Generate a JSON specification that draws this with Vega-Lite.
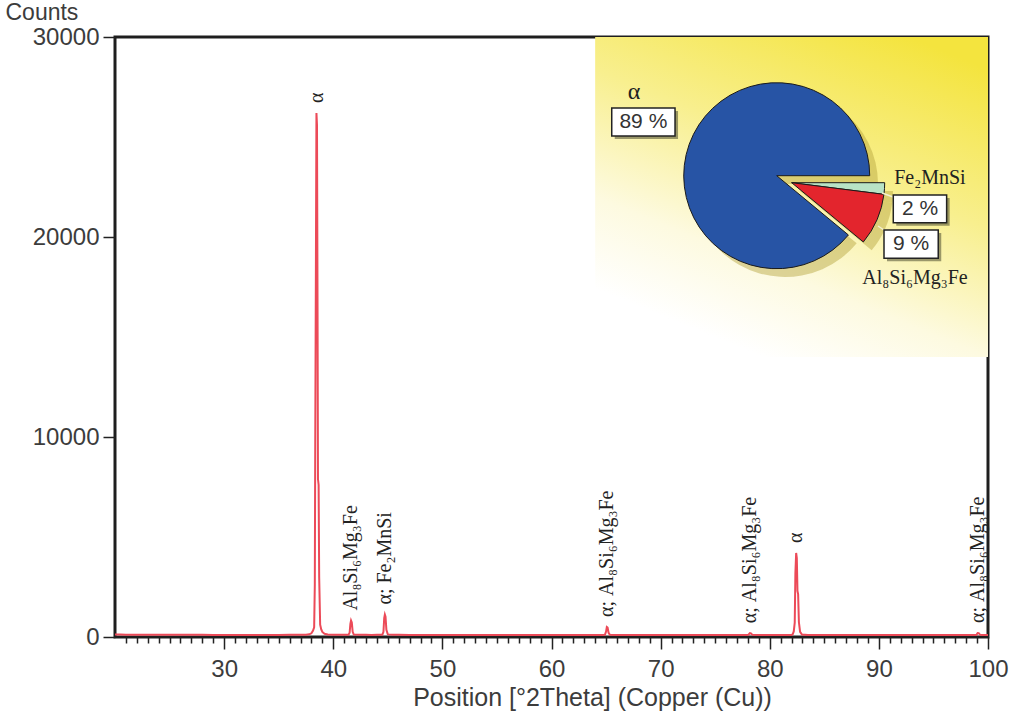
{
  "$schema": "https://vega.github.io/schema/vega-lite/v6.json",
  "width": 873,
  "height": 600,
  "autosize": {"type": "none"},
  "padding": {"left": 115, "top": 37, "right": 24, "bottom": 80},
  "background": "white",
  "resolve": {"axis": {"x": "independent", "y": "independent"}},
  "config": {
    "view": {"stroke": "#1e1e1e", "strokeWidth": 3},
    "axis": {
      "domain": false,
      "grid": false,
      "labelFont": "Liberation Sans",
      "labelFontSize": 24,
      "labelColor": "#3c3c3c",
      "titleFont": "Liberation Sans",
      "titleFontSize": 25,
      "titleFontWeight": "normal",
      "titleColor": "#3c3c3c",
      "tickColor": "#222222",
      "tickWidth": 1.5
    }
  },
  "datasets": {
    "xrd": [
      {"tt": 20, "cts": 125}, {"tt": 20.5, "cts": 120}, {"tt": 21, "cts": 118}, {"tt": 21.5, "cts": 116},
      {"tt": 22, "cts": 114}, {"tt": 23, "cts": 112}, {"tt": 24, "cts": 110}, {"tt": 25, "cts": 111},
      {"tt": 26, "cts": 108}, {"tt": 27, "cts": 107}, {"tt": 28, "cts": 108}, {"tt": 29, "cts": 106},
      {"tt": 30, "cts": 105}, {"tt": 31, "cts": 106}, {"tt": 32, "cts": 104}, {"tt": 33, "cts": 105},
      {"tt": 34, "cts": 104}, {"tt": 35, "cts": 106}, {"tt": 36, "cts": 108}, {"tt": 37, "cts": 112},
      {"tt": 37.5, "cts": 118}, {"tt": 37.8, "cts": 135}, {"tt": 38.0, "cts": 185}, {"tt": 38.15, "cts": 320},
      {"tt": 38.25, "cts": 480}, {"tt": 38.31, "cts": 2600}, {"tt": 38.35, "cts": 9800}, {"tt": 38.41, "cts": 18500},
      {"tt": 38.46, "cts": 26200}, {"tt": 38.51, "cts": 25600}, {"tt": 38.56, "cts": 16500}, {"tt": 38.6, "cts": 7900},
      {"tt": 38.66, "cts": 7600}, {"tt": 38.71, "cts": 3000}, {"tt": 38.8, "cts": 620}, {"tt": 38.9, "cts": 380},
      {"tt": 39.0, "cts": 250}, {"tt": 39.2, "cts": 160}, {"tt": 39.5, "cts": 125}, {"tt": 40, "cts": 115},
      {"tt": 40.5, "cts": 112}, {"tt": 41, "cts": 110}, {"tt": 41.4, "cts": 112}, {"tt": 41.5, "cts": 210},
      {"tt": 41.57, "cts": 650}, {"tt": 41.63, "cts": 820}, {"tt": 41.7, "cts": 720}, {"tt": 41.78, "cts": 260},
      {"tt": 41.88, "cts": 118}, {"tt": 42.5, "cts": 109}, {"tt": 43, "cts": 107}, {"tt": 43.5, "cts": 106},
      {"tt": 44, "cts": 108}, {"tt": 44.5, "cts": 116}, {"tt": 44.6, "cts": 260}, {"tt": 44.67, "cts": 950},
      {"tt": 44.73, "cts": 1120}, {"tt": 44.79, "cts": 1020}, {"tt": 44.87, "cts": 360}, {"tt": 45.0, "cts": 130},
      {"tt": 45.5, "cts": 110}, {"tt": 46, "cts": 107}, {"tt": 47, "cts": 105}, {"tt": 48, "cts": 104},
      {"tt": 49, "cts": 103}, {"tt": 50, "cts": 104}, {"tt": 51, "cts": 102}, {"tt": 52, "cts": 103},
      {"tt": 53, "cts": 101}, {"tt": 54, "cts": 102}, {"tt": 55, "cts": 101}, {"tt": 56, "cts": 100},
      {"tt": 57, "cts": 101}, {"tt": 58, "cts": 100}, {"tt": 59, "cts": 99}, {"tt": 60, "cts": 100},
      {"tt": 61, "cts": 99}, {"tt": 62, "cts": 100}, {"tt": 63, "cts": 99}, {"tt": 64, "cts": 100},
      {"tt": 64.6, "cts": 103}, {"tt": 64.9, "cts": 115}, {"tt": 65.0, "cts": 270}, {"tt": 65.07, "cts": 500},
      {"tt": 65.14, "cts": 470}, {"tt": 65.23, "cts": 210}, {"tt": 65.35, "cts": 108}, {"tt": 66, "cts": 100},
      {"tt": 67, "cts": 99}, {"tt": 68, "cts": 98}, {"tt": 69, "cts": 99}, {"tt": 70, "cts": 98},
      {"tt": 71, "cts": 97}, {"tt": 72, "cts": 98}, {"tt": 73, "cts": 97}, {"tt": 74, "cts": 98},
      {"tt": 75, "cts": 97}, {"tt": 76, "cts": 98}, {"tt": 77, "cts": 97}, {"tt": 77.8, "cts": 99},
      {"tt": 78.05, "cts": 112}, {"tt": 78.18, "cts": 190}, {"tt": 78.28, "cts": 175}, {"tt": 78.42, "cts": 106},
      {"tt": 79, "cts": 98}, {"tt": 80, "cts": 97}, {"tt": 81, "cts": 98}, {"tt": 82, "cts": 100},
      {"tt": 82.1, "cts": 130}, {"tt": 82.2, "cts": 280}, {"tt": 82.29, "cts": 720}, {"tt": 82.35, "cts": 3200},
      {"tt": 82.42, "cts": 4200}, {"tt": 82.48, "cts": 3950}, {"tt": 82.54, "cts": 2300}, {"tt": 82.6, "cts": 2150},
      {"tt": 82.67, "cts": 750}, {"tt": 82.78, "cts": 260}, {"tt": 82.95, "cts": 120}, {"tt": 83.5, "cts": 100},
      {"tt": 84, "cts": 97}, {"tt": 85, "cts": 96}, {"tt": 86, "cts": 97}, {"tt": 87, "cts": 96},
      {"tt": 88, "cts": 95}, {"tt": 89, "cts": 96}, {"tt": 90, "cts": 95}, {"tt": 91, "cts": 96},
      {"tt": 92, "cts": 95}, {"tt": 93, "cts": 94}, {"tt": 94, "cts": 95}, {"tt": 95, "cts": 94},
      {"tt": 96, "cts": 95}, {"tt": 97, "cts": 94}, {"tt": 98, "cts": 95}, {"tt": 98.8, "cts": 97},
      {"tt": 98.95, "cts": 108}, {"tt": 99.05, "cts": 200}, {"tt": 99.15, "cts": 190}, {"tt": 99.28, "cts": 108},
      {"tt": 99.5, "cts": 97}, {"tt": 100, "cts": 96}
    ],
    "peaks": [
      {"tt": 38.48, "cts": 26200, "lab": "α"},
      {"tt": 41.63, "cts": 820, "lab": "Al₈Si₆Mg₃Fe"},
      {"tt": 44.73, "cts": 1120, "lab": "α; Fe₂MnSi"},
      {"tt": 65.08, "cts": 500, "lab": "α; Al₈Si₆Mg₃Fe"},
      {"tt": 78.22, "cts": 190, "lab": "α; Al₈Si₆Mg₃Fe"},
      {"tt": 82.44, "cts": 4200, "lab": "α"},
      {"tt": 99.1, "cts": 200, "lab": "α; Al₈Si₆Mg₃Fe"}
    ],
    "pie": [
      {"phase": "α", "pct": 89},
      {"phase": "Fe₂MnSi", "pct": 2},
      {"phase": "Al₈Si₆Mg₃Fe", "pct": 9}
    ]
  },
  "layer": [
    {
      "data": {"values": [{"k": 1}]},
      "mark": {
        "type": "rect",
        "fill": {
          "gradient": "linear",
          "x1": 0.8, "y1": 0, "x2": 0.3, "y2": 1,
          "stops": [
            {"offset": 0, "color": "#f4e43e"},
            {"offset": 0.4, "color": "#f8ef8e"},
            {"offset": 0.72, "color": "#fdfae0"},
            {"offset": 0.95, "color": "#ffffff"}
          ]
        }
      },
      "encoding": {
        "x": {"datum": 64, "type": "quantitative", "axis": null},
        "x2": {"datum": 100},
        "y": {"datum": 30000, "type": "quantitative", "axis": null},
        "y2": {"datum": 14000}
      }
    },
    {
      "data": {"name": "xrd"},
      "mark": {"type": "line", "color": "#ec4a58", "strokeWidth": 2},
      "encoding": {
        "x": {
          "field": "tt",
          "type": "quantitative",
          "scale": {"domain": [20, 100], "nice": false, "zero": false},
          "axis": {
            "title": "Position [°2Theta] (Copper (Cu))",
            "values": [21,22,23,24,25,26,27,28,29,30,31,32,33,34,35,36,37,38,39,40,41,42,43,44,45,46,47,48,49,50,51,52,53,54,55,56,57,58,59,60,61,62,63,64,65,66,67,68,69,70,71,72,73,74,75,76,77,78,79,80,81,82,83,84,85,86,87,88,89,90,91,92,93,94,95,96,97,98,99,100],
            "labelExpr": "datum.value % 10 === 0 ? datum.label : ''",
            "labelOverlap": false,
            "labelFlush": false,
            "tickSize": {"condition": {"test": "datum.value % 10 === 0", "value": 12}, "value": 6},
            "labelPadding": 8,
            "titleX": 477,
            "titleY": 68,
            "titleAlign": "center",
            "titleBaseline": "alphabetic"
          }
        },
        "y": {
          "field": "cts",
          "type": "quantitative",
          "scale": {"domain": [0, 30000], "nice": false},
          "axis": {
            "title": "Counts",
            "values": [0, 10000, 20000, 30000],
            "format": "d",
            "tickSize": 12,
            "labelPadding": 4,
            "titleAngle": 0,
            "titleFontSize": 23,
            "titleX": -110,
            "titleY": -18,
            "titleAlign": "left",
            "titleBaseline": "alphabetic"
          }
        }
      }
    },
    {
      "data": {"name": "peaks"},
      "mark": {"type": "text", "angle": 270, "align": "left", "baseline": "middle", "dx": 10, "font": "Liberation Serif", "fontSize": 20, "color": "#222222"},
      "encoding": {
        "x": {"field": "tt", "type": "quantitative", "axis": null},
        "y": {"field": "cts", "type": "quantitative", "axis": null},
        "text": {"field": "lab"}
      }
    },
    {
      "data": {"name": "pie"},
      "mark": {"type": "arc", "outerRadius": 93, "color": "#b3a13a"},
      "encoding": {
        "x": {"datum": 81.4, "type": "quantitative", "axis": null},
        "y": {"datum": 22650, "type": "quantitative", "axis": null},
        "theta": {"field": "pct", "type": "quantitative", "stack": true, "scale": {"range": [1.5708, 7.854]}},
        "order": {"field": "pct", "sort": "ascending"},
        "opacity": {"condition": {"test": "datum.phase !== 'α'", "value": 0}, "value": 0.45}
      }
    },
    {
      "data": {"name": "pie"},
      "mark": {"type": "arc", "outerRadius": 93, "color": "#b3a13a"},
      "encoding": {
        "x": {"datum": 82.77, "type": "quantitative", "axis": null},
        "y": {"datum": 22300, "type": "quantitative", "axis": null},
        "theta": {"field": "pct", "type": "quantitative", "stack": true, "scale": {"range": [1.5708, 7.854]}},
        "order": {"field": "pct", "sort": "ascending"},
        "opacity": {"condition": {"test": "datum.phase === 'α'", "value": 0}, "value": 0.45}
      }
    },
    {
      "data": {"name": "pie"},
      "mark": {"type": "arc", "outerRadius": 93, "stroke": "#1a1a1a", "strokeWidth": 1},
      "encoding": {
        "x": {"datum": 80.64, "type": "quantitative", "axis": null},
        "y": {"datum": 23065, "type": "quantitative", "axis": null},
        "theta": {"field": "pct", "type": "quantitative", "stack": true, "scale": {"range": [1.5708, 7.854]}},
        "order": {"field": "pct", "sort": "ascending"},
        "color": {"field": "phase", "type": "nominal", "scale": {"domain": ["α", "Fe₂MnSi", "Al₈Si₆Mg₃Fe"], "range": ["#2754a5", "#b8e3c6", "#e3252d"]}, "legend": null},
        "opacity": {"condition": {"test": "datum.phase !== 'α'", "value": 0}, "value": 1}
      }
    },
    {
      "data": {"name": "pie"},
      "mark": {"type": "arc", "outerRadius": 93, "stroke": "#1a1a1a", "strokeWidth": 1},
      "encoding": {
        "x": {"datum": 82.01, "type": "quantitative", "axis": null},
        "y": {"datum": 22715, "type": "quantitative", "axis": null},
        "theta": {"field": "pct", "type": "quantitative", "stack": true, "scale": {"range": [1.5708, 7.854]}},
        "order": {"field": "pct", "sort": "ascending"},
        "color": {"field": "phase", "type": "nominal", "scale": {"domain": ["α", "Fe₂MnSi", "Al₈Si₆Mg₃Fe"], "range": ["#2754a5", "#b8e3c6", "#e3252d"]}, "legend": null},
        "opacity": {"condition": {"test": "datum.phase === 'α'", "value": 0}, "value": 1}
      }
    },
    {
      "data": {"values": [{"k": 1}]},
      "mark": {"type": "rule", "color": "#f4f1d0", "strokeWidth": 1.5},
      "encoding": {"x": {"datum": 90.29, "type": "quantitative", "axis": null}, "x2": {"datum": 91.3}, "y": {"datum": 22200, "type": "quantitative", "axis": null}, "y2": {"datum": 22000}}
    },
    {
      "data": {"values": [{"k": 1}]},
      "mark": {"type": "rule", "color": "#f4f1d0", "strokeWidth": 1.5},
      "encoding": {"x": {"datum": 89.92, "type": "quantitative", "axis": null}, "x2": {"datum": 90.6}, "y": {"datum": 20550, "type": "quantitative", "axis": null}, "y2": {"datum": 20300}}
    },
    {
      "data": {"values": [{"k": 1}]},
      "encoding": {"x": {"datum": 65.52, "type": "quantitative", "axis": null}, "x2": {"datum": 71.32}, "y": {"datum": 26450, "type": "quantitative", "axis": null}, "y2": {"datum": 25050}},
      "layer": [
        {"mark": {"type": "rect", "fill": "#4a4a30", "opacity": 0.55, "xOffset": 3, "x2Offset": 3, "yOffset": 3, "y2Offset": 3}},
        {"mark": {"type": "rect", "fill": "#ffffff", "stroke": "#222222", "strokeWidth": 1.5}},
        {"mark": {"type": "text", "text": "89 %", "font": "Liberation Sans", "fontSize": 21, "color": "#333333"}, "encoding": {"x": {"datum": 68.42, "type": "quantitative", "axis": null}, "y": {"datum": 25750, "type": "quantitative", "axis": null}}}
      ]
    },
    {
      "data": {"values": [{"k": 1}]},
      "encoding": {"x": {"datum": 91.32, "type": "quantitative", "axis": null}, "x2": {"datum": 96.21}, "y": {"datum": 22100, "type": "quantitative", "axis": null}, "y2": {"datum": 20715}},
      "layer": [
        {"mark": {"type": "rect", "fill": "#4a4a30", "opacity": 0.55, "xOffset": 3, "x2Offset": 3, "yOffset": 3, "y2Offset": 3}},
        {"mark": {"type": "rect", "fill": "#ffffff", "stroke": "#222222", "strokeWidth": 1.5}},
        {"mark": {"type": "text", "text": "2 %", "font": "Liberation Sans", "fontSize": 21, "color": "#333333"}, "encoding": {"x": {"datum": 93.77, "type": "quantitative", "axis": null}, "y": {"datum": 21408, "type": "quantitative", "axis": null}}}
      ]
    },
    {
      "data": {"values": [{"k": 1}]},
      "encoding": {"x": {"datum": 90.47, "type": "quantitative", "axis": null}, "x2": {"datum": 95.44}, "y": {"datum": 20350, "type": "quantitative", "axis": null}, "y2": {"datum": 18935}},
      "layer": [
        {"mark": {"type": "rect", "fill": "#4a4a30", "opacity": 0.55, "xOffset": 3, "x2Offset": 3, "yOffset": 3, "y2Offset": 3}},
        {"mark": {"type": "rect", "fill": "#ffffff", "stroke": "#222222", "strokeWidth": 1.5}},
        {"mark": {"type": "text", "text": "9 %", "font": "Liberation Sans", "fontSize": 21, "color": "#333333"}, "encoding": {"x": {"datum": 92.96, "type": "quantitative", "axis": null}, "y": {"datum": 19643, "type": "quantitative", "axis": null}}}
      ]
    },
    {
      "data": {"values": [{"k": 1}]},
      "mark": {"type": "text", "text": "α", "font": "Liberation Serif", "fontSize": 24, "color": "#222222"},
      "encoding": {"x": {"datum": 67.56, "type": "quantitative", "axis": null}, "y": {"datum": 27250, "type": "quantitative", "axis": null}}
    },
    {
      "data": {"values": [{"k": 1}]},
      "mark": {"type": "text", "text": "Fe₂MnSi", "font": "Liberation Serif", "fontSize": 20, "color": "#222222"},
      "encoding": {"x": {"datum": 94.68, "type": "quantitative", "axis": null}, "y": {"datum": 22950, "type": "quantitative", "axis": null}}
    },
    {
      "data": {"values": [{"k": 1}]},
      "mark": {"type": "text", "text": "Al₈Si₆Mg₃Fe", "font": "Liberation Serif", "fontSize": 20, "color": "#222222"},
      "encoding": {"x": {"datum": 93.31, "type": "quantitative", "axis": null}, "y": {"datum": 17950, "type": "quantitative", "axis": null}}
    }
  ]
}
